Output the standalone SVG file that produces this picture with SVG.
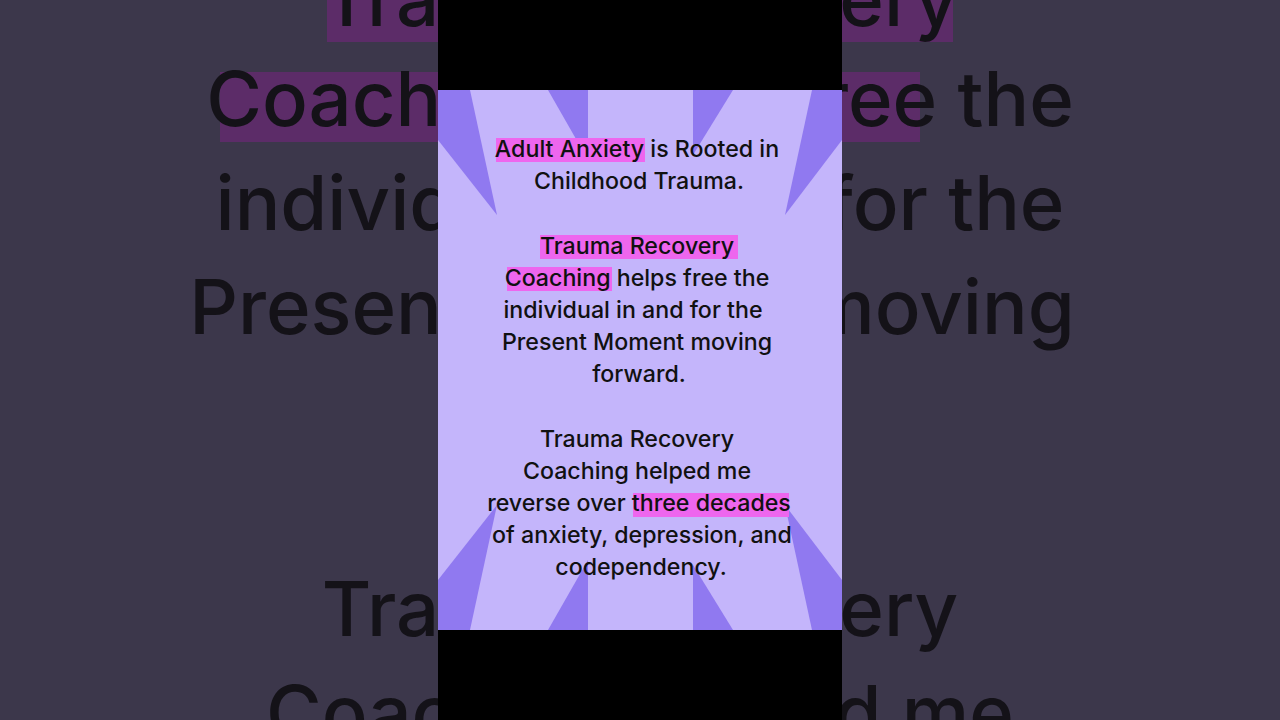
<svg xmlns="http://www.w3.org/2000/svg" width="1280" height="720" viewBox="0 0 1280 720">
<style>
.bg{font-family:Inter,"Liberation Sans",sans-serif;font-size:76px;font-weight:500;fill:#141218;text-anchor:middle}
.t{font-family:Inter,"Liberation Sans",sans-serif;font-size:23.2px;font-weight:500;fill:#111;text-anchor:middle}
.hl{fill:#ee66ee}
.bhl{fill:#5c2c68}
.w{fill:#9079f0}
</style>
<rect width="1280" height="720" fill="#3c374b"/>
<rect x="327" y="-10" width="626" height="52" class="bhl"/>
<rect x="220" y="72" width="700" height="70" class="bhl"/>
<text class="bg" x="640" y="26">Trauma Recovery</text>
<text class="bg" x="640" y="126">Coaching helps free the</text>
<text class="bg" x="640" y="230">individual in and for the</text>
<text class="bg" x="632" y="334">Present Moment moving</text>
<text class="bg" x="640" y="636">Trauma Recovery</text>
<text class="bg" x="640" y="740">Coaching helped me</text>
<rect x="438" y="0" width="404" height="90" fill="#000"/>
<rect x="438" y="630" width="404" height="90" fill="#000"/>
<g id="panel">
<rect x="438" y="90" width="404" height="540" fill="#c4b5fb"/>
<polygon class="w" points="548,90 588,90 588,160"/>
<polygon class="w" points="693,90 733,90 693,155"/>
<polygon class="w" points="438,90 470,90 497,215 438,140"/>
<polygon class="w" points="842,90 812,90 785,215 842,140"/>
<polygon class="w" points="548,630 588,630 588,560"/>
<polygon class="w" points="693,630 733,630 693,565"/>
<polygon class="w" points="438,630 470,630 497,505 438,580"/>
<polygon class="w" points="842,630 812,630 785,505 842,580"/>
</g>
<g id="text">
<rect class="hl" x="496" y="138" width="149" height="24"/>
<rect class="hl" x="540" y="235" width="198" height="24"/>
<rect class="hl" x="507" y="267" width="105" height="24"/>
<rect class="hl" x="633" y="493" width="156" height="24"/>
<text class="t" x="637" y="157">Adult Anxiety is Rooted in</text>
<text class="t" x="639" y="189">Childhood Trauma.</text>
<text class="t" x="637" y="254">Trauma Recovery</text>
<text class="t" x="637" y="286">Coaching helps free the</text>
<text class="t" x="633" y="318">individual in and for the</text>
<text class="t" x="637" y="350">Present Moment moving</text>
<text class="t" x="639" y="382">forward.</text>
<text class="t" x="637" y="447">Trauma Recovery</text>
<text class="t" x="637" y="479">Coaching helped me</text>
<text class="t" x="639" y="511">reverse over three decades</text>
<text class="t" x="642" y="543">of anxiety, depression, and</text>
<text class="t" x="641" y="575">codependency.</text>
</g>
</svg>
